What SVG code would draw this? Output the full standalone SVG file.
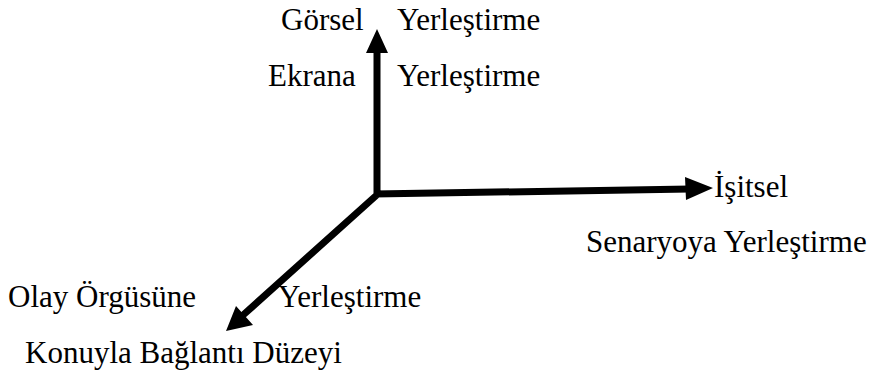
<svg xmlns="http://www.w3.org/2000/svg" width="881" height="373" viewBox="0 0 881 373">
  <rect width="881" height="373" fill="#fff"/>
  <g id="visual">
    <text x="281" y="30" font-family="Liberation Serif" font-size="31px">Görsel</text>
    <text x="397" y="30" font-family="Liberation Serif" font-size="31px">Yerleştirme</text>
  </g>
  <g id="screen">
    <text x="268" y="86" font-family="Liberation Serif" font-size="31px">Ekrana</text>
    <text x="397" y="86" font-family="Liberation Serif" font-size="31px">Yerleştirme</text>
  </g>
  <g id="audio">
    <text x="714" y="197" font-family="Liberation Serif" font-size="31px">İşitsel</text>
  </g>
  <g id="scenario">
    <text x="586" y="252" font-family="Liberation Serif" font-size="31px">Senaryoya Yerleştirme</text>
  </g>
  <g id="plot">
    <text x="8" y="307" font-family="Liberation Serif" font-size="31px">Olay Örgüsüne</text>
    <text x="278" y="307" font-family="Liberation Serif" font-size="31px">Yerleştirme</text>
  </g>
  <g id="topic">
    <text x="25" y="363" font-family="Liberation Serif" font-size="31px">Konuyla Bağlantı Düzeyi</text>
  </g>
  <!-- three axes: shafts as thick strokes, heads as filled triangles -->
  <g id="connectors">
    <path d="M377,197 V48 M374,194 L690,189 M379,193 L242,316" stroke="#000" stroke-width="7" fill="none"/>
    <path d="M377,29 L366,53 L388,53 Z M713,188 L685,177 L686,200 Z M226,331 L236,306 L253,325 Z" fill="#000"/>
  </g>
</svg>
